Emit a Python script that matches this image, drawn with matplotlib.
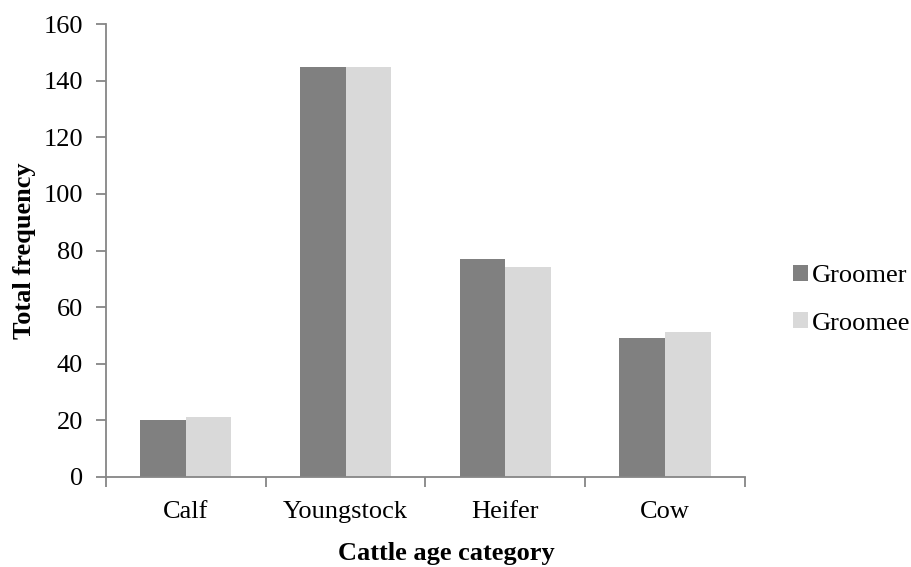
import matplotlib
matplotlib.use("Agg")
import matplotlib.pyplot as plt
import numpy as np

categories = ["Calf", "Youngstock", "Heifer", "Cow"]
groomer = [20, 145, 77, 49]
groomee = [21, 145, 74, 51]

plt.rcParams['font.family'] = ['Liberation Serif', 'DejaVu Serif']

fig = plt.figure(figsize=(9.12, 5.67), dpi=100)
ax = fig.add_axes([0.1162, 0.1593, 0.7007, 0.7978])

x = np.arange(len(categories))
w = 1 / 3.5
ax.bar(x - w / 2, groomer, w, color="#808080", label="Groomer")
ax.bar(x + w / 2, groomee, w, color="#d9d9d9", label="Groomee")

ax.set_xlim(-0.5, len(categories) - 0.5)
ax.set_ylim(0, 160)
ax.set_yticks(range(0, 161, 20))
ax.set_xticks(x)
ax.set_xticklabels(categories)
ax.set_xticks(np.arange(-0.5, len(categories), 1), minor=True)

for s in ["top", "right"]:
    ax.spines[s].set_visible(False)
for s in ["left", "bottom"]:
    ax.spines[s].set_color("#868686")
    ax.spines[s].set_linewidth(1.3)

ax.tick_params(axis="y", direction="out", length=7, width=1.3, color="#868686",
               labelsize=19, pad=9.5)
ax.tick_params(axis="x", which="major", length=0, labelsize=19, pad=17.5)
ax.tick_params(axis="x", which="minor", direction="out", length=7, width=1.3,
               color="#868686")

fig.text(0.489, 0.0125, "Cattle age category", fontsize=19, fontweight="bold",
         ha="center", va="baseline")
fig.text(0.027, 0.557, "Total frequency", fontsize=19, fontweight="bold",
         rotation=90, ha="center", va="center")

leg = fig.legend(loc="center left", bbox_to_anchor=(0.858, 0.471), frameon=False,
                 fontsize=19, handlelength=0.55, handleheight=0.55,
                 handletextpad=0.15, labelspacing=0.95, borderaxespad=0)

fig.savefig("out.png", dpi=100)
